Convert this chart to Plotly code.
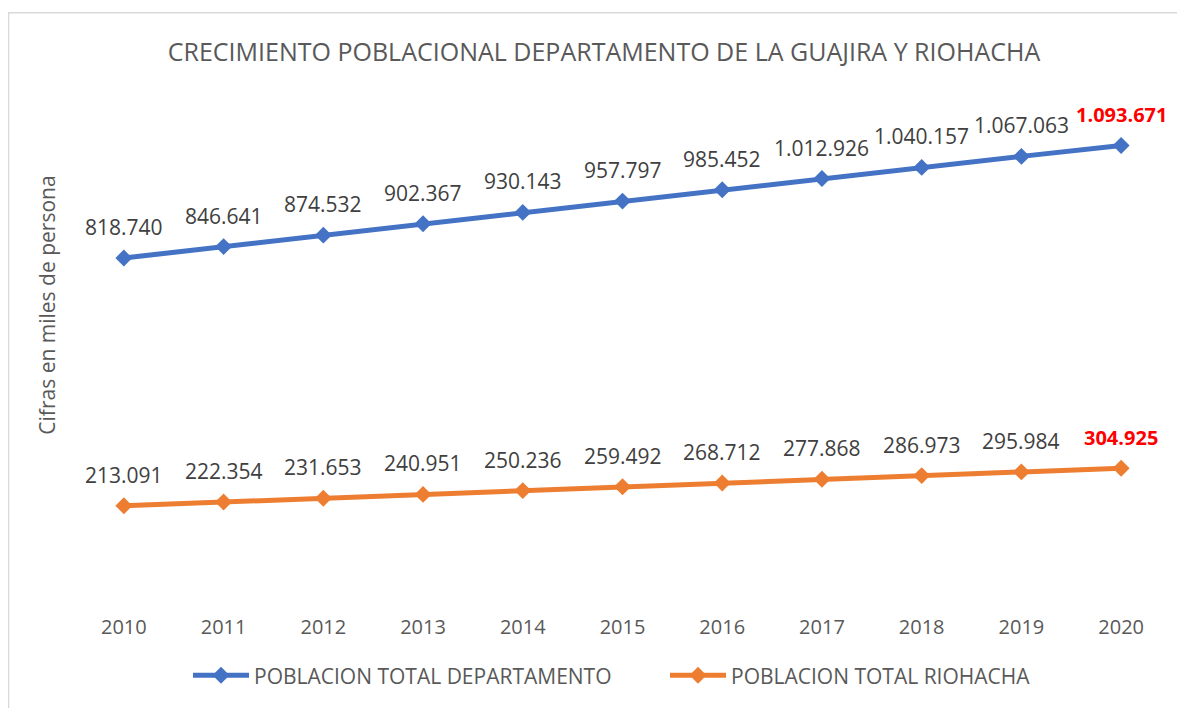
import plotly.graph_objects as go

years = [2010, 2011, 2012, 2013, 2014, 2015, 2016, 2017, 2018, 2019, 2020]
departamento = [818740, 846641, 874532, 902367, 930143, 957797, 985452, 1012926, 1040157, 1067063, 1093671]
riohacha = [213091, 222354, 231653, 240951, 250236, 259492, 268712, 277868, 286973, 295984, 304925]
series_names = ["POBLACION TOTAL DEPARTAMENTO", "POBLACION TOTAL RIOHACHA"]
title_text = "CRECIMIENTO POBLACIONAL DEPARTAMENTO DE LA GUAJIRA Y RIOHACHA"
y_title = "Cifras en miles de persona"

# page body has an 8px margin, so the figure is drawn 8px in from the window edge
W, H = 1177, 700
L, R, T, B = 66, 14, 94, 113
FONT = "Open Sans"
GREY = "#595959"
LABEL = "#404040"


def fmt(v):
    return f"{v:,}".replace(",", ".")


fig = go.Figure()
colors = ["#4472C4", "#ED7D31"]
for name, vals, col in zip(series_names, [departamento, riohacha], colors):
    fig.add_trace(go.Scatter(
        x=years, y=vals, name=name, mode="lines+markers",
        line=dict(color=col, width=5),
        marker=dict(symbol="diamond", size=13, color=col),
    ))

annotations = []
for vals in [departamento, riohacha]:
    for i, (yr, v) in enumerate(zip(years, vals)):
        last = i == len(vals) - 1
        annotations.append(dict(
            x=yr, y=v, xref="x", yref="y",
            text=f"<b>{fmt(v)}</b>" if last else fmt(v),
            showarrow=False, yshift=31, yanchor="middle", xanchor="center",
            font=dict(family=FONT, size=21 if not last else 20,
                      color="#FF0000" if last else LABEL),
        ))

pw = W - L - R
ph = H - T - B
annotations.append(dict(
    x=(39 - L) / pw, y=0.5 + 42 / ph, xref="paper", yref="paper", text=y_title,
    textangle=-90, showarrow=False, xanchor="center", yanchor="middle",
    font=dict(family=FONT, size=21, color=GREY),
))

fig.update_layout(
    width=W, height=H,
    margin=dict(l=L, r=R, t=T, b=B),
    paper_bgcolor="white", plot_bgcolor="white",
    title=dict(text=title_text, x=596 / W, xanchor="center", xref="container",
               y=1 - 44 / H, yanchor="middle", yref="container",
               font=dict(family=FONT, size=25, color=GREY)),
    xaxis=dict(range=[2009.5, 2020.5], tickmode="array", tickvals=years,
               ticktext=[str(y) for y in years],
               showgrid=False, zeroline=False, showline=False, ticks="",
               ticklabelstandoff=20,
               tickfont=dict(family=FONT, size=20, color=GREY)),
    yaxis=dict(range=[0, 1200000], showgrid=False, zeroline=False, showline=False,
               showticklabels=False, ticks=""),
    legend=dict(orientation="h", x=(657 - L) / pw, xanchor="center", y=-83 / ph,
                yanchor="middle", font=dict(family=FONT, size=21, color=GREY),
                itemwidth=56, entrywidth=406, entrywidthmode="pixels",
                traceorder="normal"),
    annotations=annotations,
    shapes=[dict(type="rect", xref="paper", yref="paper",
                 x0=(0.5 - L) / pw, x1=(1190 - L) / pw,
                 y0=-(720 - (H - B)) / ph, y1=(H - B - 4.5) / ph,
                 line=dict(color="#D9D9D9", width=1.5), layer="below")],
)

fig.write_html("out.html")
